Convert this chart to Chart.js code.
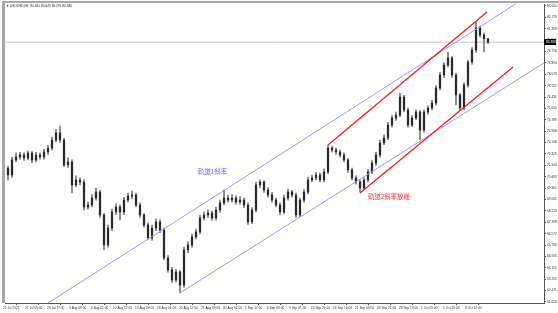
<!DOCTYPE html>
<html>
<head>
<meta charset="utf-8">
<script src="https://cdn.jsdelivr.net/npm/chart.js@4.4.0/dist/chart.umd.min.js"></script>
<style>
  html, body { margin: 0; padding: 0; background: #fff; }
  #wrap { width: 558px; height: 313px; }
</style>
</head>
<body>
<div id="wrap"><canvas id="myChart" width="558" height="313"></canvas></div>
<script>
var symbolTitle = 'USOUSD,H4  80.641 80.649 80.276 80.386';

// H4 candles, Jul 22 - Oct 8 2021
var opens = [71.30, 70.81, 71.89, 72.11, 72.25, 72.03, 72.39, 71.89, 72.25, 72.11,
  72.47, 72.75, 73.33, 73.84, 73.33, 71.53, 71.75, 70.09, 70.45, 70.30,
  68.50, 68.64, 69.15, 69.58, 67.92, 65.76, 66.98, 68.14, 68.50, 68.14,
  69.00, 69.29, 69.36, 68.64, 67.92, 67.20, 66.26, 66.98, 67.42, 66.84,
  64.82, 63.96, 63.23, 63.81, 62.87, 65.40, 65.76, 66.34, 66.70, 67.71,
  67.92, 68.07, 67.71, 68.28, 68.79, 69.15, 69.00, 69.15, 68.86, 69.00,
  68.64, 67.42, 68.28, 70.09, 70.30, 69.73, 69.36, 69.00, 68.64, 68.14,
  69.15, 69.58, 69.36, 67.92, 69.00, 69.58, 70.45, 70.59, 70.81, 70.45,
  71.02, 72.75, 72.61, 72.47, 72.25, 71.89, 71.17, 70.59, 70.30, 69.87,
  70.45, 71.02, 71.67, 72.25, 73.12, 73.48, 74.41, 74.92, 75.13, 76.43,
  75.50, 74.41, 74.92, 75.35, 74.05, 75.35, 75.64, 76.00, 77.08, 78.02,
  78.74, 79.25, 78.02, 76.58, 75.64, 77.30, 78.96, 79.82, 81.41, 80.91,
  80.64];
var highs = [71.45, 72.10, 72.40, 72.45, 72.40, 72.55, 72.50, 72.45, 72.40, 72.65,
  72.95, 73.55, 74.10, 74.34, 73.45, 72.05, 71.90, 70.75, 70.60, 70.45,
  68.85, 69.40, 69.87, 69.70, 68.05, 67.20, 68.35, 68.75, 68.65, 69.20,
  69.50, 69.65, 69.50, 68.80, 68.05, 67.35, 67.20, 67.65, 67.60, 67.00,
  65.00, 64.15, 64.00, 63.95, 65.60, 66.00, 66.55, 66.90, 67.90, 68.15,
  68.30, 68.20, 68.50, 69.00, 69.73, 69.35, 69.40, 69.30, 69.25, 69.15,
  68.80, 68.45, 70.30, 70.45, 70.40, 69.90, 69.55, 69.15, 68.80, 69.35,
  69.80, 69.70, 69.50, 69.15, 69.75, 70.65, 70.80, 71.00, 70.95, 71.25,
  72.97, 72.90, 72.75, 72.60, 72.40, 72.00, 71.30, 70.75, 70.45, 70.60,
  71.20, 71.85, 72.45, 73.30, 73.70, 74.60, 75.10, 75.35, 76.72, 76.55,
  75.65, 75.10, 75.50, 75.45, 75.50, 75.80, 76.20, 77.25, 78.20, 78.90,
  79.68, 79.35, 78.15, 76.70, 77.45, 79.10, 80.00, 81.84, 81.55, 81.05,
  80.65];
var lows = [70.45, 70.65, 71.75, 71.95, 71.85, 71.90, 71.70, 71.75, 71.95, 71.95,
  72.30, 72.60, 73.20, 73.15, 71.40, 71.35, 69.51, 69.95, 70.10, 68.28,
  68.35, 68.50, 69.00, 67.75, 65.40, 65.60, 66.80, 67.95, 67.56, 67.95,
  68.85, 69.10, 68.50, 67.75, 67.05, 66.12, 66.10, 66.80, 66.65, 64.68,
  63.80, 63.05, 63.10, 62.30, 62.70, 65.20, 65.60, 66.20, 66.55, 67.55,
  67.75, 67.55, 67.55, 68.10, 68.65, 68.85, 68.85, 68.70, 68.70, 68.45,
  67.25, 67.30, 68.15, 69.90, 69.55, 69.20, 68.85, 68.50, 67.95, 68.00,
  69.00, 69.20, 67.75, 67.80, 68.85, 69.45, 70.30, 70.45, 70.30, 70.30,
  70.90, 72.45, 72.30, 72.10, 71.75, 71.00, 70.45, 70.15, 69.58, 69.75,
  70.30, 70.90, 71.50, 72.10, 73.00, 73.35, 74.25, 74.75, 75.00, 75.35,
  74.25, 74.30, 74.80, 73.33, 73.90, 75.20, 75.50, 75.85, 76.95, 77.85,
  78.60, 77.85, 75.86, 75.45, 75.50, 77.15, 78.80, 79.65, 80.75, 79.68,
  80.28];
var closes = [70.81, 71.89, 72.11, 72.25, 72.03, 72.39, 71.89, 72.25, 72.11, 72.47,
  72.75, 73.33, 73.84, 73.33, 71.53, 71.75, 70.09, 70.45, 70.30, 68.50,
  68.64, 69.15, 69.58, 67.92, 65.76, 66.98, 68.14, 68.50, 68.14, 69.00,
  69.29, 69.36, 68.64, 67.92, 67.20, 66.26, 66.98, 67.42, 66.84, 64.82,
  63.96, 63.23, 63.81, 62.87, 65.40, 65.76, 66.34, 66.70, 67.71, 67.92,
  68.07, 67.71, 68.28, 68.79, 69.15, 69.00, 69.15, 68.86, 69.00, 68.64,
  67.42, 68.28, 70.09, 70.30, 69.73, 69.36, 69.00, 68.64, 68.14, 69.15,
  69.58, 69.36, 67.92, 69.00, 69.58, 70.45, 70.59, 70.81, 70.45, 71.02,
  72.75, 72.61, 72.47, 72.25, 71.89, 71.17, 70.59, 70.30, 69.87, 70.45,
  71.02, 71.67, 72.25, 73.12, 73.48, 74.41, 74.92, 75.13, 76.43, 75.50,
  74.41, 74.92, 75.35, 74.05, 75.35, 75.64, 76.00, 77.08, 78.02, 78.74,
  79.25, 78.02, 76.58, 75.64, 77.30, 78.96, 79.82, 81.41, 80.91, 80.64,
  80.386];

var timeLabels = ['22 Jul 2021', '27 Jul 05:00', '29 Jul 17:00', '3 Aug 09:00', '6 Aug 01:00',
  '10 Aug 17:00', '13 Aug 09:00', '18 Aug 01:00', '20 Aug 17:00', '25 Aug 09:00',
  '30 Aug 01:00', '1 Sep 17:00', '6 Sep 09:00', '9 Sep 01:00', '13 Sep 21:00',
  '16 Sep 13:00', '21 Sep 05:00', '23 Sep 21:00', '28 Sep 13:00', '1 Oct 05:00',
  '5 Oct 20:00', '8 Oct 12:00'];
var barsPerLabel = 5.5;

var priceTicks = [61.650, 62.471, 63.292, 64.114, 64.935, 65.756, 66.577, 67.398, 68.219,
  69.041, 69.862, 70.683, 71.504, 72.325, 73.146, 73.968, 74.789, 75.610, 76.431,
  77.252, 78.073, 78.894, 79.716, 80.537, 81.358, 82.179, 83.000];

// channel lines: [bar index, price]
var track1Upper = [[10.0, 61.57], [127.25, 83.21]];
var track1Lower = [[43, 62.30], [134, 78.89]];
var track2Upper = [[80, 72.97], [119.75, 82.56]];
var track2Lower = [[88, 69.50], [126.25, 78.60]];

var notes = [
  { text: '軌道1斜率', x: 47.5, y: 71.02, color: '#6b6bff' },
  { text: '軌道2斜率放緩', x: 90, y: 69.22, color: '#ff3030' }
];

var smallFont = '"Liberation Sans", Arial, sans-serif';

function toPts(arr) {
  return arr.map(function(p) { return { x: p[0], y: p[1] }; });
}

var wickData = highs.map(function(h, i) { return { x: i, y: [lows[i], h] }; });
var bodyData = opens.map(function(o, i) { return { x: i, y: [o, closes[i]] }; });
var lastClose = closes[closes.length - 1];

var mt4Decor = {
  id: 'mt4Decor',
  beforeDraw: function(chart) {
    var c = chart.ctx;
    c.save();
    c.fillStyle = '#fff';
    c.fillRect(0, 0, chart.width, chart.height);
    c.restore();
  },
  afterDraw: function(chart) {
    var c = chart.ctx, a = chart.chartArea;
    var xs = chart.scales.x, ys = chart.scales.y;
    c.save();
    // frame
    c.fillStyle = '#a8a8a8';
    c.fillRect(2, 1, chart.width - 2, 2);
    c.fillRect(2, 1, 3, a.bottom - 1);
    // title
    c.fillStyle = '#222';
    c.font = '3.2px ' + smallFont;
    c.textBaseline = 'middle';
    c.textAlign = 'left';
    c.fillText('\u25BC', 6, 6.5);
    c.fillText(symbolTitle, 10, 6.5);
    // notes
    notes.forEach(function(n) {
      c.fillStyle = n.color;
      c.font = '6.4px "Noto Sans CJK TC", sans-serif';
      c.fillText(n.text, xs.getPixelForValue(n.x), ys.getPixelForValue(n.y));
    });
    // current price box
    var py = Math.round(ys.getPixelForValue(lastClose));
    c.fillStyle = '#000';
    c.fillRect(a.right, py - 3, 12, 6);
    c.fillStyle = '#fff';
    c.font = '3.2px ' + smallFont;
    c.fillText(lastClose.toFixed(3), a.right + 2, py);
    c.restore();
  }
};

var ctx = document.getElementById('myChart').getContext('2d');
var myChart = new Chart(ctx, {
  type: 'bar',
  data: {
    datasets: [{
      label: 'wick',
      data: wickData,
      backgroundColor: '#7a7a7a',
      barThickness: 1,
      grouped: false,
      order: 4
    }, {
      label: 'body',
      data: bodyData,
      backgroundColor: '#2a2a2a',
      barThickness: 1.6,
      grouped: false,
      order: 3
    }, {
      type: 'line',
      label: 'price',
      data: [{ x: -0.75, y: lastClose }, { x: 134, y: lastClose }],
      borderColor: '#c8c8c8',
      borderWidth: 1,
      pointRadius: 0,
      order: 5
    }, {
      type: 'line',
      label: '軌道1上',
      data: toPts(track1Upper),
      borderColor: '#9a9aff',
      borderWidth: 1,
      pointRadius: 0,
      order: 1
    }, {
      type: 'line',
      label: '軌道1下',
      data: toPts(track1Lower),
      borderColor: '#9a9aff',
      borderWidth: 1,
      pointRadius: 0,
      order: 1
    }, {
      type: 'line',
      label: '軌道2上',
      data: toPts(track2Upper),
      borderColor: '#ff1a1a',
      borderWidth: 1.3,
      pointRadius: 0,
      order: 0
    }, {
      type: 'line',
      label: '軌道2下',
      data: toPts(track2Lower),
      borderColor: '#ff1a1a',
      borderWidth: 1.3,
      pointRadius: 0,
      order: 0
    }]
  },
  options: {
    responsive: false,
    animation: false,
    devicePixelRatio: 1,
    layout: { padding: { left: 5, top: 4, right: 0, bottom: 0 } },
    plugins: {
      legend: { display: false },
      tooltip: { enabled: false }
    },
    scales: {
      x: {
        type: 'linear',
        min: -0.75,
        max: 134,
        offset: false,
        grid: { drawOnChartArea: false, tickLength: 2, color: '#555' },
        border: { color: '#555' },
        afterBuildTicks: function(axis) {
          axis.ticks = timeLabels.map(function(t, k) { return { value: -0.75 + k * barsPerLabel }; });
        },
        afterFit: function(axis) { axis.height = 10; },
        ticks: {
          autoSkip: false,
          maxRotation: 0,
          minRotation: 0,
          align: 'start',
          labelOffset: -2,
          padding: 1,
          color: '#333',
          font: { family: smallFont, size: 3.2 },
          callback: function(value, index) { return timeLabels[index]; }
        }
      },
      y: {
        type: 'linear',
        position: 'right',
        min: 61.574,
        max: 83.141,
        grid: { drawOnChartArea: false, tickLength: 2, color: '#555' },
        border: { color: '#555' },
        afterBuildTicks: function(axis) {
          axis.ticks = priceTicks.map(function(v) { return { value: v }; });
        },
        afterFit: function(axis) { axis.width = 14; },
        ticks: {
          autoSkip: false,
          padding: 1,
          color: '#333',
          font: { family: smallFont, size: 3.2 },
          callback: function(value) { return value.toFixed(3); }
        }
      }
    }
  },
  plugins: [mt4Decor]
});
</script>
</body>
</html>
